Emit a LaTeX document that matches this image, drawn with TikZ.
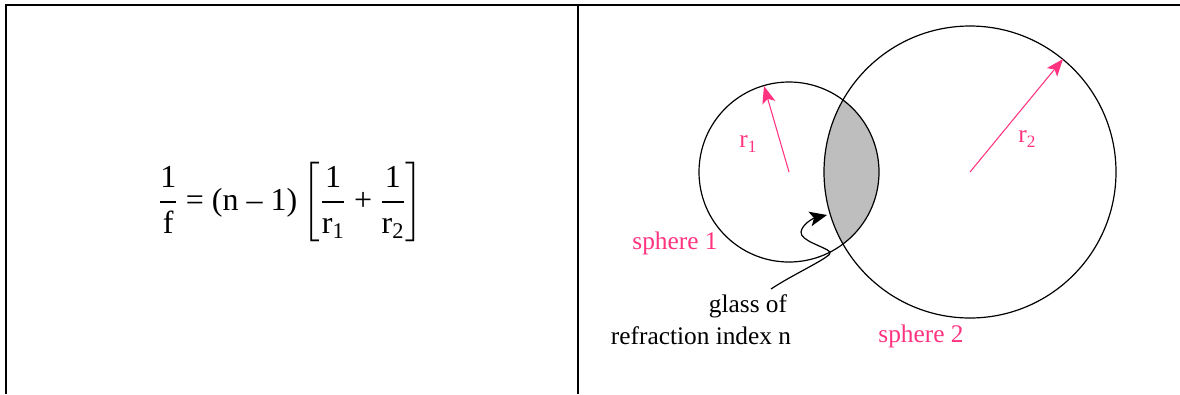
\documentclass[tikz,border=0pt]{standalone}
\usepackage{fontspec}
\usepackage{amsmath}
\setmainfont{Liberation Serif}
\usetikzlibrary{arrows.meta}
\definecolor{pinkc}{HTML}{FF3380}
\definecolor{lensgray}{HTML}{BEBEBE}
\tikzset{
  frameline/.style={line width=1.5pt},
  sphereline/.style={line width=0.9pt},
  radius arrow/.style={pinkc, line width=0.8pt, -{Stealth[length=13pt,width=10pt,inset=3pt]}},
  pinklabel/.style={text=pinkc, font=\fontsize{19}{22}\selectfont, inner sep=0pt},
  blacklabel/.style={text=black, font=\fontsize{19}{22}\selectfont, inner sep=0pt, align=center},
}
\begin{document}
\begin{tikzpicture}[x=0.75pt,y=-0.75pt]
\useasboundingbox (0,0) rectangle (1180,394);
% frame
\coordinate (tl) at (6,5);
\coordinate (tr) at (1180,5);
\coordinate (bl) at (6,394);
\coordinate (tm) at (578,5);
\coordinate (bm) at (578,394);
\draw[frameline] (bl) -- (tl) -- (tr);
\draw[frameline] (tm) -- (bm);
% formula
\node[inner sep=0pt, font=\fontsize{24}{29}\selectfont] (formula) at (291,202)
  {$\dfrac{\text{1}}{\text{f}}\text{ = (n – 1)}\left[\dfrac{\text{1}}{\text{r}_{\text{1}}}\text{ + }\dfrac{\text{1}}{\text{r}_{\text{2}}}\right]$};
% spheres
\coordinate (c1) at (789,172);
\coordinate (c2) at (970,172);
\begin{scope}
  \clip (c1) circle (90);
  \fill[lensgray] (c2) circle (146);
\end{scope}
\draw[sphereline] (c1) circle (90);
\draw[sphereline] (c2) circle (146);
% radii
\coordinate (t1) at (764,86);
\coordinate (t2) at (1063,59);
\draw[radius arrow] (c1) -- (t1);
\draw[radius arrow] (c2) -- (t2);
\node[pinklabel] (r1) at (748,144) {r\raisebox{-0.35ex}{\fontsize{13}{15}\selectfont 1}};
\node[pinklabel] (r2) at (1027,139) {r\raisebox{-0.35ex}{\fontsize{13}{15}\selectfont 2}};
\node[pinklabel] (s1) at (675,243) {sphere 1};
\node[pinklabel] (s2) at (921,336) {sphere 2};
% glass label
\node[blacklabel] (glass) at (748,306) {glass of};
\node[blacklabel] (refr) at (701,336) {refraction index n};
\coordinate (gstart) at (771,289);
\coordinate (gtip) at (827,215);
\draw[line width=0.9pt, -{Stealth[length=13pt,width=11pt,inset=3pt]}]
  (gstart) .. controls (795,273) and (834,256) .. (830,252)
  .. controls (826,247) and (800,241) .. (801,232)
  .. controls (802,224) and (814,218) .. (gtip);
\end{tikzpicture}
\end{document}
